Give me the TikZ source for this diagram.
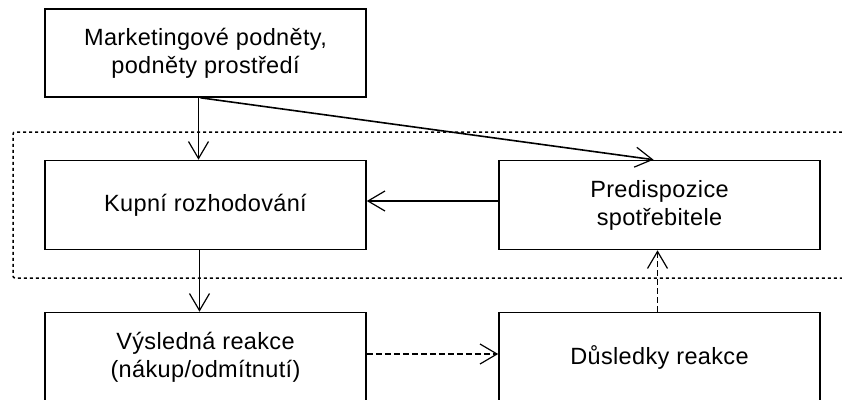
\documentclass[tikz,border=0pt]{standalone}
\usepackage{fontspec}
\setmainfont{Liberation Sans}
\usetikzlibrary{arrows.meta,calc}
\begin{document}
\begin{tikzpicture}[x=1pt,y=-1pt,
  box/.style={draw,line width=1.6pt,minimum width=321pt,minimum height=89pt,
    inner sep=0pt,align=center,font=\fontsize{23.5}{28}\selectfont\addfontfeatures{LetterSpace=1.5}},
  arr/.style={line width=1.6pt,
    -{Straight Barb[length=17pt,width=20pt,line width=1.2pt]}},
  dasharr/.style={arr,dash pattern=on 6pt off 3pt},
  frame/.style={line width=1.5pt,dash pattern=on 3pt off 3pt}]
  \useasboundingbox (0,0) rectangle (842,399);
  \clip (0,0) rectangle (842,399);

  % area of consumer characteristics
  \draw[frame,rounded corners=2pt] (860,132) -- (13,132) -- (13,278) -- (860,278);

  \node[box,minimum height=88pt] (stim) at (205.5,53) {Marketingové podněty,\\podněty prostředí};
  \node[box] (buy) at (205.5,205) {Kupní rozhodování};
  \node[box] (pred) at (659.5,205) {Predispozice\\spotřebitele};
  \node[box] (resp) at (205.5,357) {Výsledná reakce\\(nákup/odmítnutí)};
  \node[box] (cons) at (659.5,357) {Důsledky reakce};

  \coordinate (s1) at ($(stim.south)+(-7,0)$);
  \coordinate (s2) at ($(stim.south)+(-5,0)$);
  \draw[arr] (s1) -- (s1 |- buy.north);
  \draw[arr] (s2) -- ($(pred.north)+(-6,0)$);
  \draw[arr] ($(pred.west)+(0,-4)$) -- ($(buy.east)+(0,-4)$);
  \draw[arr] ($(buy.south)+(-6,0)$) -- ($(resp.north)+(-6,0)$);
  \draw[dasharr] ($(resp.east)+(0,-3)$) -- ($(cons.west)+(0,-3)$);
  \draw[dasharr] ($(cons.north)+(-2,0)$) -- ($(pred.south)+(-2,0)$);
\end{tikzpicture}
\end{document}
